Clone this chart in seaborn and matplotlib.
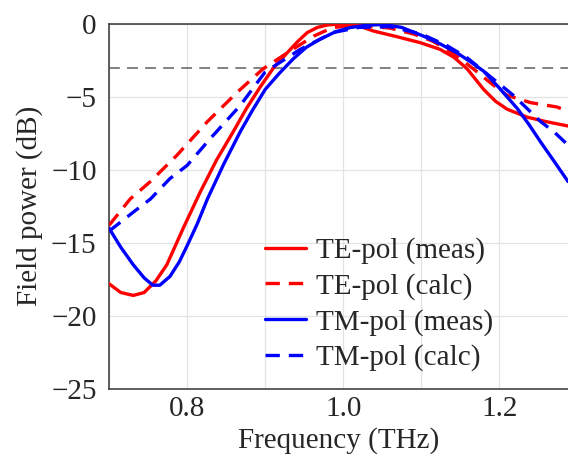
import numpy as np
import pandas as pd
import matplotlib
matplotlib.use("Agg")
import matplotlib.pyplot as plt
import seaborn as sns

# values
te_meas_f = [0.70, 0.715, 0.731, 0.745, 0.76, 0.774, 0.795, 0.817, 0.838, 0.859, 0.876, 0.894, 0.911, 0.928, 0.942,
             0.954, 0.967, 0.98, 1.00, 1.02, 1.039, 1.07, 1.099, 1.124, 1.142, 1.159, 1.18, 1.195, 1.21, 1.236,
             1.26, 1.288]
te_meas_db = [-17.8, -18.4, -18.6, -18.4, -17.6, -16.5, -14.0, -11.5, -9.3, -7.4, -5.8, -4.3, -3.0, -2.0, -1.2,
              -0.6, -0.25, -0.08, 0.0, -0.15, -0.5, -0.9, -1.3, -1.75, -2.3, -3.1, -4.5, -5.3, -5.85, -6.4,
              -6.7, -7.0]

te_calc_f = [0.70, 0.727, 0.753, 0.787, 0.826, 0.864, 0.897, 0.928, 0.962, 0.987, 1.02, 1.06, 1.09, 1.115,
             1.14, 1.167, 1.19, 1.21, 1.24, 1.274, 1.288]
te_calc_db = [-13.8, -12.0, -10.8, -9.0, -6.7, -4.7, -3.1, -2.0, -0.85, -0.25, -0.1, -0.3, -0.7, -1.2,
              -2.0, -3.1, -4.1, -4.9, -5.4, -5.7, -6.0]

tm_meas_f = [0.70, 0.715, 0.731, 0.745, 0.756, 0.765, 0.778, 0.79, 0.80, 0.813, 0.826, 0.847, 0.868, 0.884, 0.90,
             0.918, 0.936, 0.953, 0.97, 0.99, 1.009, 1.03, 1.051, 1.075, 1.103, 1.125, 1.146, 1.163, 1.18,
             1.20, 1.223, 1.238, 1.253, 1.27, 1.288]
tm_meas_db = [-14.0, -15.3, -16.5, -17.4, -17.9, -17.9, -17.3, -16.3, -15.2, -13.7, -12.0, -9.6, -7.4, -5.9, -4.5,
              -3.4, -2.4, -1.6, -1.07, -0.55, -0.26, -0.1, -0.05, -0.25, -0.85, -1.4, -2.0, -2.6, -3.25,
              -4.4, -5.8, -6.9, -8.1, -9.4, -10.8]

tm_calc_f = [0.70, 0.731, 0.753, 0.778, 0.80, 0.829, 0.868, 0.90, 0.945, 0.987, 1.02, 1.06, 1.10, 1.133,
             1.158, 1.18, 1.218, 1.253, 1.27, 1.288]
tm_calc_db = [-14.2, -12.9, -12.0, -10.6, -9.7, -7.9, -5.6, -3.3, -1.75, -0.6, -0.25, -0.2, -0.7, -1.5,
              -2.3, -3.25, -4.9, -6.7, -7.4, -8.3]

series = [
    ("TE-pol (meas)", te_meas_f, te_meas_db, "red", "-"),
    ("TE-pol (calc)", te_calc_f, te_calc_db, "red", "--"),
    ("TM-pol (meas)", tm_meas_f, tm_meas_db, "blue", "-"),
    ("TM-pol (calc)", tm_calc_f, tm_calc_db, "blue", "--"),
]

sns.set_style("white")
plt.rcParams["font.family"] = ["Liberation Serif", "DejaVu Serif"]
plt.rcParams["axes.unicode_minus"] = True

fs = 21
fig = plt.figure(figsize=(5.68, 4.57), dpi=100)
ax = fig.add_axes([0.192, 0.149, 0.808, 0.799])

ax.axhline(-3, color="#777777", lw=1.3, dashes=(6, 4), zorder=1)

for name, f, db, col, ls in series:
    df = pd.DataFrame({"f": f, "db": db})
    line_kw = dict(dashes=(4.3, 2.7)) if ls == "--" else {}
    sns.lineplot(data=df, x="f", y="db", ax=ax, color=col, lw=2.4, sort=False,
                 label=name, estimator=None, zorder=3, **line_kw)

ax.set_xlim(0.7, 1.288)
ax.set_ylim(-25, 0)
ax.set_xticks([0.8, 1.0, 1.2])
ax.set_xticks(np.arange(0.7, 1.29, 0.1), minor=True)
ax.set_yticks([0, -5, -10, -15, -20, -25])
ax.grid(True, which="both", color="#e3e3e3", lw=0.9, zorder=0)
ax.tick_params(axis="y", which="both", length=0, labelsize=fs, pad=9)
ax.tick_params(axis="x", which="both", length=0, labelsize=fs, pad=5)

ax.set_xlabel("Frequency (THz)", fontsize=fs, labelpad=4)
ax.set_ylabel("Field power (dB)", fontsize=fs, labelpad=6)

for s in ["left", "bottom", "top"]:
    ax.spines[s].set_color("#444444")
    ax.spines[s].set_linewidth(1.2)
ax.spines["right"].set_visible(False)

ax.legend(loc="upper left", bbox_to_anchor=(0.34, 0.415), frameon=False, fontsize=fs,
          handlelength=1.4, labelspacing=0.3, handletextpad=0.35, borderaxespad=0, borderpad=0)

fig.savefig("out.png", dpi=100)
